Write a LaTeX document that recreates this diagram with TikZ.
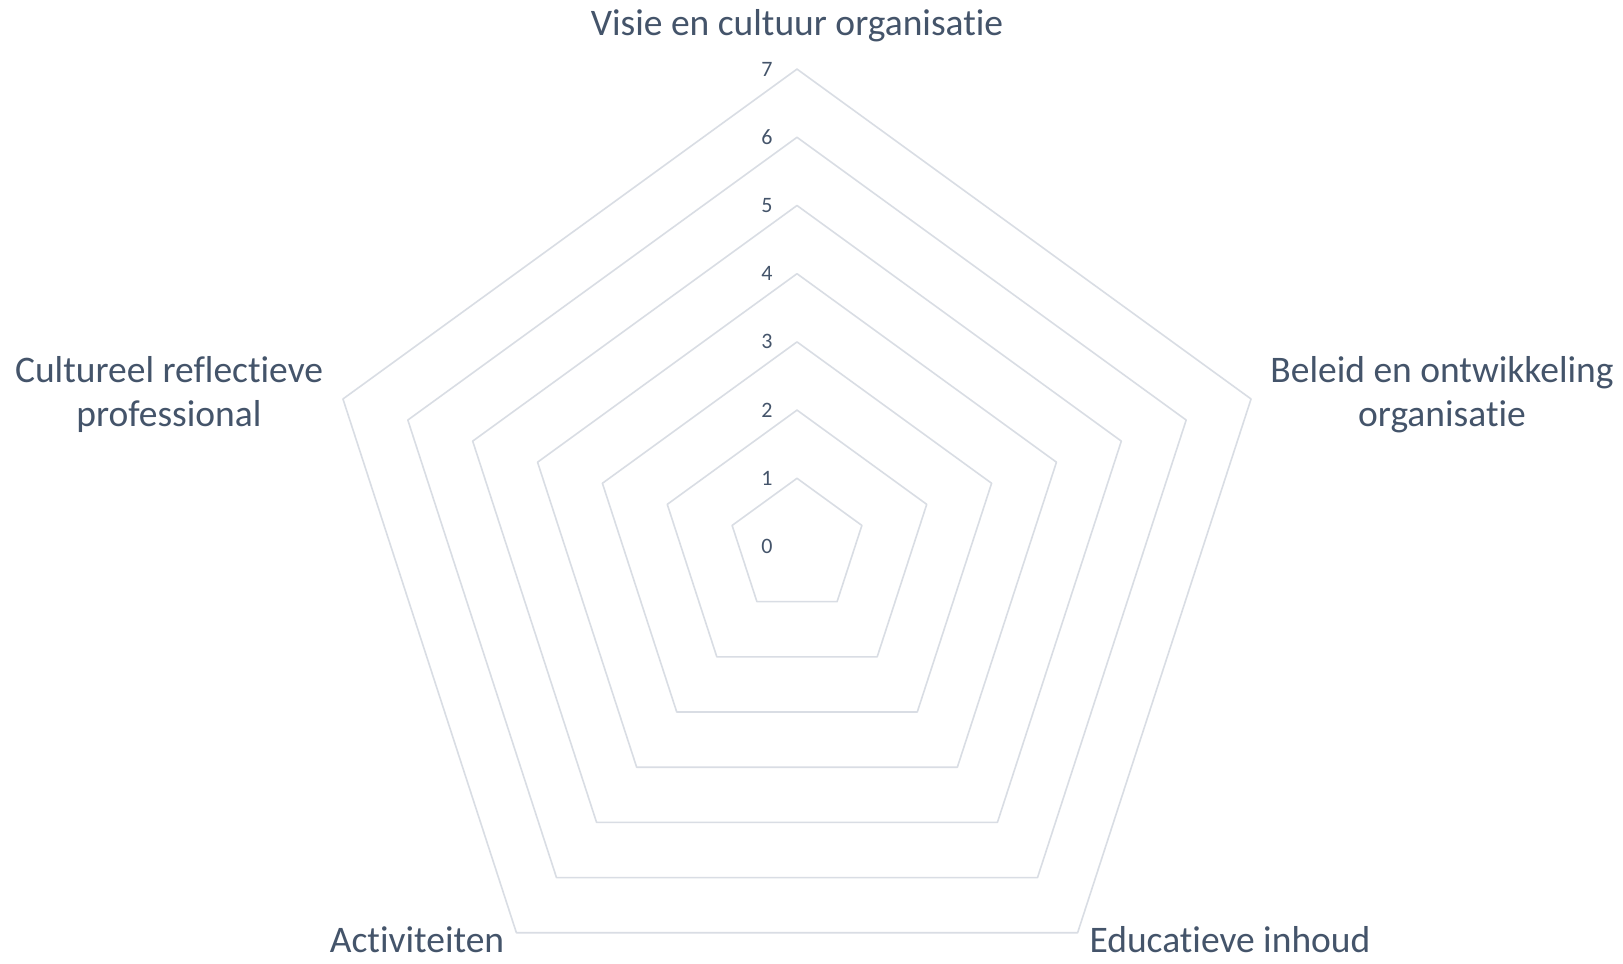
\documentclass[tikz,border=0pt]{standalone}
\usepackage{fontspec}
\setmainfont{Carlito}[Ligatures=NoCommon]
\definecolor{txt}{HTML}{44546A}
\definecolor{grid}{HTML}{D9DDE4}
\begin{document}
\begin{tikzpicture}[x=1pt,y=-1pt,
  ring/.style={draw=grid, line width=1.6pt, line join=round},
  cat/.style={text=txt, font=\fontsize{37.5}{41}\selectfont, align=center, inner sep=0pt, anchor=base},
  num/.style={text=txt, font=\fontsize{22}{26}\selectfont, inner sep=0pt, anchor=center}]
\useasboundingbox[fill=white] (0,0) rectangle (1623,964);
\def\cx{797}\def\cy{546.5}\def\ru{68.2}
\foreach \k in {1,...,7}{
  \draw[ring] (\cx+0*\ru*\k,\cy-\ru*\k)
    -- (\cx+0.95106*\ru*\k,\cy-0.30902*\ru*\k)
    -- (\cx+0.58779*\ru*\k,\cy+0.80902*\ru*\k)
    -- (\cx-0.58779*\ru*\k,\cy+0.80902*\ru*\k)
    -- (\cx-0.95106*\ru*\k,\cy-0.30902*\ru*\k) -- cycle;
}
\foreach \k in {0,...,7}{
  \node[num] (n\k) at (767,\cy-\ru*\k) {\k};
}
\node[cat] (visie) at (797,35) {Visie en cultuur organisatie};
\node[cat] (beleid) at (1442,426) {Beleid en ontwikkeling\\[3pt]organisatie};
\node[cat] (edu) at (1230,952) {Educatieve inhoud};
\node[cat] (act) at (417,952) {Activiteiten};
\node[cat] (cult) at (169,426) {Cultureel reflectieve\\[3pt]professional};
\end{tikzpicture}
\end{document}
